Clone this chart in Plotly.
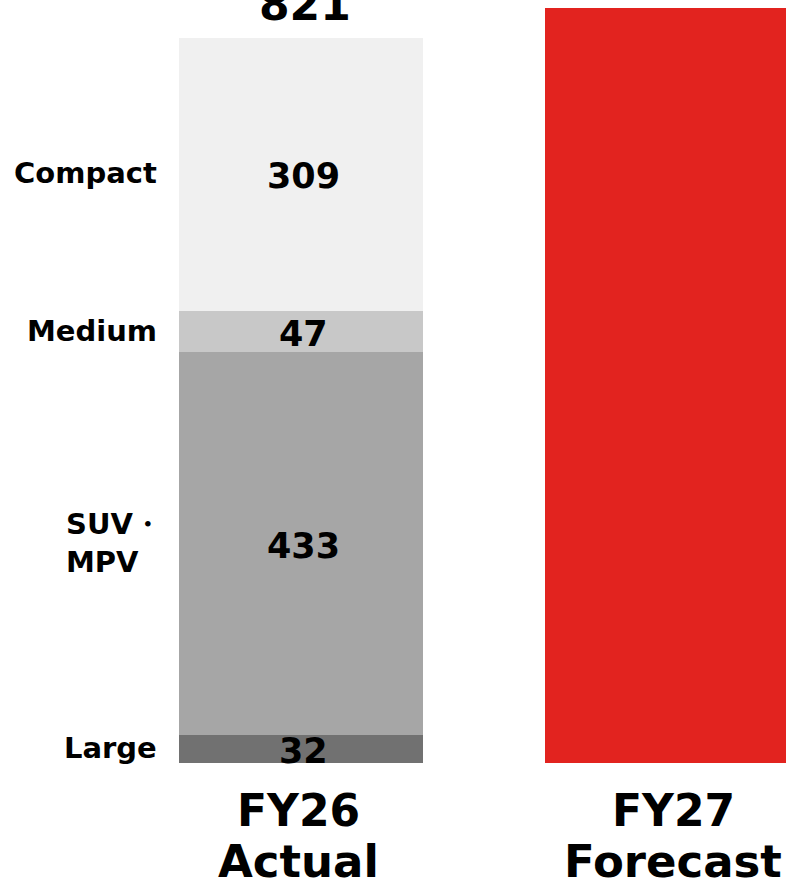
import plotly.graph_objects as go

periods = ["FY26", "FY27"]
period_sub = ["Actual", "Forecast"]
segments = ["Large", "SUV・<br>MPV", "Medium", "Compact"]
fy26_values = [32, 433, 47, 309]
seg_colors = ["#717171", "#a6a6a6", "#c8c8c8", "#f0f0f0"]
fy27_value = 855
fy27_color = "#e2231f"

FONT = "DejaVu Sans"
TXT = "#000000"
fig = go.Figure()
for name, val, col in zip(segments, fy26_values, seg_colors):
    fig.add_trace(go.Bar(x=[periods[0]], y=[val], name=name, marker=dict(color=col, line=dict(width=0)),
                         width=0.6667, hoverinfo="skip"))
fig.add_trace(go.Bar(x=[periods[1]], y=[fy27_value], marker=dict(color=fy27_color, line=dict(width=0)),
                     width=0.6667, hoverinfo="skip"))

annotations = []
cum = 0
for name, val in zip(segments, fy26_values):
    mid = cum + val / 2
    annotations.append(dict(x=periods[0], y=mid, text=str(val), showarrow=False,
                            font=dict(family=FONT, size=35, color=TXT, weight="bold"),
                            xanchor="center", yanchor="middle", xshift=2, yshift=-2))
    multi = "<br>" in name
    annotations.append(dict(x=-1/3, y=mid, text=name, showarrow=False,
                            font=dict(family=FONT, size=29, color=TXT, weight="bold"),
                            xanchor="right", yanchor="middle", align="left",
                            xshift=-15 if multi else -20, yshift=1))
    cum += val

annotations.append(dict(x=periods[0], y=sum(fy26_values), text=str(sum(fy26_values)), showarrow=False,
                        font=dict(family=FONT, size=44, color=TXT, weight="bold"),
                        xanchor="center", yanchor="bottom", yshift=6, xshift=4))

for i, (p, s) in enumerate(zip(periods, period_sub)):
    xs = -3 if i == 0 else 6
    annotations.append(dict(x=p, y=0, text=p, showarrow=False, yshift=-47,
                            font=dict(family=FONT, size=44, color=TXT, weight="bold"),
                            xanchor="center", yanchor="middle", xshift=xs))
    annotations.append(dict(x=p, y=0, text=s, showarrow=False, yshift=-98,
                            font=dict(family=FONT, size=45, color=TXT, weight="bold"),
                            xanchor="center", yanchor="middle", xshift=xs))

fig.update_layout(
    barmode="stack",
    width=786, height=889,
    margin=dict(l=0, r=0, t=0, b=126, pad=0),
    paper_bgcolor="white", plot_bgcolor="white",
    showlegend=False,
    xaxis=dict(type="category", range=[-0.8224, 1.3251], showticklabels=False, showgrid=False,
               zeroline=False, showline=False, ticks=""),
    yaxis=dict(range=[0, 864], showticklabels=False, showgrid=False, zeroline=False,
               showline=False, ticks=""),
    annotations=annotations,
)

fig.write_html("out.html", config={"displayModeBar": False},
               post_script="document.body.style.margin='0';document.body.style.overflow='hidden';")
